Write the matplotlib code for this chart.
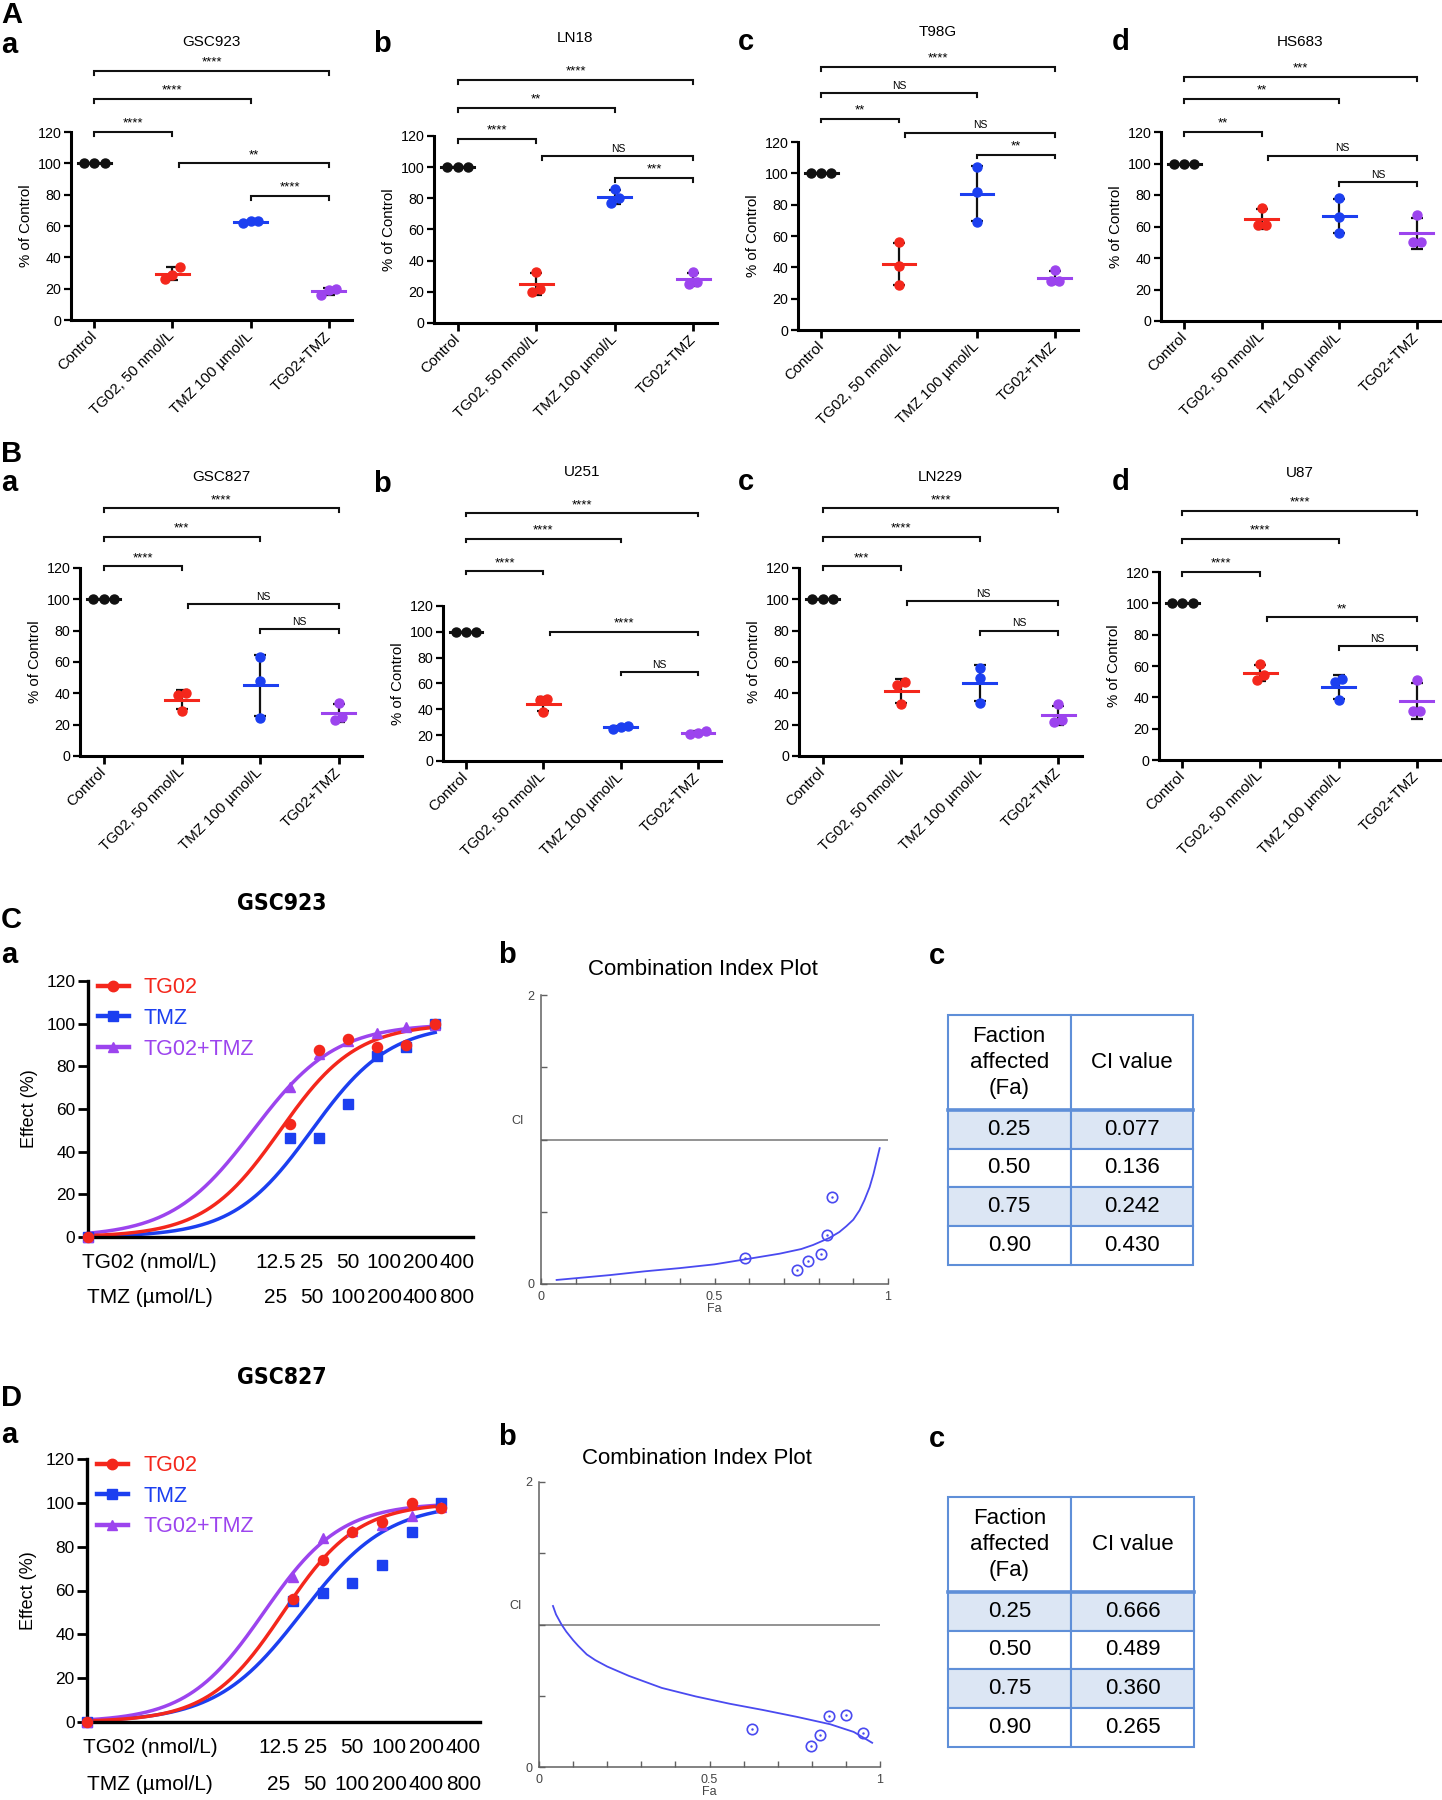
import numpy as np
import matplotlib.pyplot as plt
from matplotlib.lines import Line2D

plt.rcParams["font.family"] = ["Liberation Sans", "DejaVu Sans"]

W, H = 1442, 1800

GROUPS = ["Control", "TG02, 50 nmol/L", "TMZ 100 µmol/L", "TG02+TMZ"]

# % of control, three replicates per group
GSC923 = [[100, 100, 100], [34, 26, 29], [63, 62, 63], [20, 16, 19]]
LN18 = [[100, 100, 100], [33, 20, 22], [86, 77, 80], [33, 25, 26]]
T98G = [[100, 100, 100], [56, 41, 29], [104, 88, 69], [38.5, 31, 31]]
HS683 = [[100, 100, 100], [72, 61, 61], [78, 66, 56], [67, 50, 50]]
GSC827 = [[100, 100, 100], [40, 39, 29], [63, 48, 24.5], [34, 23, 25]]
U251 = [[100, 100, 100], [48, 47, 38], [27, 25, 26], [23, 21, 22]]
LN229 = [[100, 100, 100], [47, 45, 33], [56, 50, 34], [33, 22, 23]]
U87 = [[100, 100, 100], [61, 51, 54], [52, 50, 38], [51, 31, 31]]

# comparisons: (group a, group b, bracket level, label)
GSC923_SIG = [(0, 1, 120, "****"), (0, 2, 141, "****"), (0, 3, 159, "****"), (1, 3, 100, "**"), (2, 3, 79, "****")]
LN18_SIG = [(0, 1, 118, "****"), (0, 2, 138, "**"), (0, 3, 156, "****"), (1, 3, 107, "NS"), (2, 3, 93, "***")]
T98G_SIG = [(0, 1, 135, "**"), (0, 2, 151, "NS"), (0, 3, 168, "****"), (1, 3, 126, "NS"), (2, 3, 112, "**")]
HS683_SIG = [(0, 1, 120, "**"), (0, 2, 141, "**"), (0, 3, 155, "***"), (1, 3, 105, "NS"), (2, 3, 88, "NS")]
GSC827_SIG = [(0, 1, 121, "****"), (0, 2, 140, "***"), (0, 3, 158, "****"), (1, 3, 97, "NS"), (2, 3, 81, "NS")]
U251_SIG = [(0, 1, 147, "****"), (0, 2, 172, "****"), (0, 3, 192, "****"), (1, 3, 100, "****"), (2, 3, 69, "NS")]
LN229_SIG = [(0, 1, 121, "***"), (0, 2, 140, "****"), (0, 3, 158, "****"), (1, 3, 99, "NS"), (2, 3, 80, "NS")]
U87_SIG = [(0, 1, 120, "****"), (0, 2, 141, "****"), (0, 3, 159, "****"), (1, 3, 91, "**"), (2, 3, 72.5, "NS")]

# dose response
TG02_DOSES = [12.5, 25, 50, 100, 200, 400]  # nmol/L
TMZ_DOSES = [25, 50, 100, 200, 400, 800]  # µmol/L
# effect (%) at dose 0, then the six doses
GSC923_TG02 = [0, 52.9, 87.7, 93, 89.2, 90, 99.8]
GSC923_TMZ = [0, 46.6, 46.6, 62.2, 85, 89.2, 99.8]
GSC923_COMBO = [0, 70.5, 86, 92, 95.8, 98.4, 99.5]
GSC827_TG02 = [0, 56, 73.7, 86.5, 91.2, 99.9, 97.6]
GSC827_TMZ = [0, 55.4, 58.7, 63.6, 71.7, 86.6, 100]
GSC827_COMBO = [0, 66.3, 83.9, 87, 90, 93.8, 98]
# median-effect fits: (Dm, m), Dm in nmol/L TG02 or µmol/L TMZ
GSC923_FIT = {"TG02": (9.9, 1.1), "TMZ": (42.0, 1.07), "TG02+TMZ": (5.2, 1.02)}
GSC827_FIT = {"TG02": (9.9, 1.15), "TMZ": (30.8, 1.0), "TG02+TMZ": (6.3, 1.11)}

# combination index plots (curve, plus the data points)
GSC923_CI_FA = [0.045, 0.1, 0.2, 0.3, 0.4, 0.5, 0.587, 0.688, 0.75, 0.784, 0.832, 0.86,
                0.88, 0.9, 0.918, 0.932, 0.947, 0.958, 0.968, 0.976]
GSC923_CI_LINE = [0.028, 0.04, 0.062, 0.088, 0.11, 0.136, 0.17, 0.21, 0.242, 0.27, 0.32, 0.36,
                  0.40, 0.445, 0.51, 0.58, 0.67, 0.76, 0.86, 0.94]
GSC923_PT_FA = [0.587, 0.739, 0.770, 0.808, 0.825, 0.84]
GSC923_PT_CI = [0.178, 0.10, 0.16, 0.21, 0.34, 0.60]
GSC827_CI_FA = [0.041, 0.05, 0.066, 0.08, 0.1, 0.115, 0.14, 0.165, 0.2, 0.263, 0.36, 0.46,
                0.559, 0.657, 0.756, 0.854, 0.923, 0.977]
GSC827_CI_LINE = [1.13, 1.07, 1.0, 0.95, 0.89, 0.85, 0.79, 0.75, 0.705, 0.64, 0.555, 0.495,
                  0.444, 0.40, 0.352, 0.30, 0.246, 0.17]
GSC827_PT_FA = [0.626, 0.798, 0.825, 0.849, 0.90, 0.95]
GSC827_PT_CI = [0.269, 0.145, 0.227, 0.358, 0.363, 0.241]

TABLE_FA = [0.25, 0.50, 0.75, 0.90]
GSC923_CI_TABLE = [0.077, 0.136, 0.242, 0.430]
GSC827_CI_TABLE = [0.666, 0.489, 0.360, 0.265]

BLACK = "#111111"
RED = "#f4271c"
BLUE = "#1c3ff0"
PURPLE = "#9c44ee"
GROUP_COLORS = [BLACK, RED, BLUE, PURPLE]
CI_BLUE = "#4a4af0"
TABLE_EDGE = "#5f8fd8"
TABLE_FILL = "#dce6f4"

ZERO_X = -6.95  # where dose 0 sits on the log2 dose axis
X_END = 6.3
LABEL_SPREAD = 1.25
LABEL_SHIFT = 0.12

fig = plt.figure(figsize=(W / 100, H / 100), dpi=100)


def px_box(x0, y0, x1, y1):
    return [x0 / W, 1 - y1 / H, (x1 - x0) / W, (y1 - y0) / H]


def fig_text(x, y, s, **kw):
    fig.text(x / W, 1 - y / H, s, **kw)


def spread(v, thr=6.0, step=0.12):
    v = np.asarray(v, float)
    off = np.zeros(len(v))
    order = np.argsort(v, kind="stable")
    groups = [[order[0]]]
    for k in order[1:]:
        if v[k] - v[groups[-1][-1]] < thr:
            groups[-1].append(k)
        else:
            groups.append([k])
    for g in groups:
        for r, k in enumerate(g):
            off[k] = (r - (len(g) - 1) / 2) * step
    return off


def dot_panel(box, title, title_y, vals, sig):
    ax = fig.add_axes(px_box(*box))
    for i, (v, c) in enumerate(zip(vals, GROUP_COLORS)):
        v = np.asarray(v, float)
        m, sd = v.mean(), v.std(ddof=1)
        ax.errorbar(i, m, yerr=sd, fmt="none", ecolor=BLACK, elinewidth=1.6,
                    capsize=4.5, capthick=1.6, zorder=2)
        ax.plot(i + spread(v, step=0.13 if i == 0 else 0.1), v, "o", color=c, ms=6.5,
                zorder=3, clip_on=False)
        ax.plot([i - 0.21, i + 0.21], [m, m], color=c, lw=2.2, zorder=4)

    for a, b, h, lab in sig:
        xa = a + (0.08 if a == 1 else 0)
        ax.plot([xa, xa, b, b], [h - 2.5, h, h, h - 2.5], color=BLACK, lw=1.5,
                clip_on=False, solid_joinstyle="miter")
        ax.text((xa + b) / 2, h + 1.5, lab, ha="center", va="bottom",
                fontsize=7.5 if lab == "NS" else 9.5)

    ax.set_xlim(-0.3, 3.3)
    ax.set_ylim(0, 120)
    ax.set_yticks(range(0, 121, 20))
    ax.set_xticks(range(4))
    ax.set_xticklabels(GROUPS, rotation=45, ha="right", va="center",
                       rotation_mode="anchor", fontsize=10.8)
    ax.tick_params(axis="y", length=5, width=1.6, labelsize=10.3, pad=2)
    ax.tick_params(axis="x", length=6, width=2, pad=4)
    for s in ("top", "right"):
        ax.spines[s].set_visible(False)
    for s in ("left", "bottom"):
        ax.spines[s].set_linewidth(2.2)
    ax.set_ylabel("% of Control", fontsize=10.8, labelpad=3)
    cx = (box[0] + box[2]) / 2
    fig_text(cx, title_y, title, ha="center", va="center", fontsize=11)
    return ax


def dose_panel(box, tg02, tmz, combo, fits):
    ax = fig.add_axes(px_box(*box))
    x_d = np.log2(np.asarray(TG02_DOSES) / TG02_DOSES[0])
    x_pts = np.concatenate([[ZERO_X], x_d])
    x_fit = np.linspace(ZERO_X, x_d[-1], 400)
    ratio = TMZ_DOSES[0] / TG02_DOSES[0]
    specs = [("TMZ", tmz, BLUE, "s", ratio, 6.8),
             ("TG02+TMZ", combo, PURPLE, "^", 1.0, 6.8),
             ("TG02", tg02, RED, "o", 1.0, 7.3)]
    for name, eff, color, mk, scale, ms in specs:
        dm, slope = fits[name]
        e = np.log2(dm / scale / TG02_DOSES[0])
        ax.plot(x_fit, 100 / (1 + 2.0 ** (-slope * (x_fit - e))), color=color,
                lw=2.5, zorder=2, clip_on=False)
        ax.plot(x_pts, eff, mk, color=color, ms=ms, ls="none", zorder=3, clip_on=False)

    handles = [Line2D([], [], color=RED, marker="o", lw=3.2, ms=7.5),
               Line2D([], [], color=BLUE, marker="s", lw=3.2, ms=7),
               Line2D([], [], color=PURPLE, marker="^", lw=3.2, ms=7)]
    ax.legend(handles, ["TG02", "TMZ", "TG02+TMZ"], loc="upper left",
              bbox_to_anchor=(0.025, 1.015), frameon=False, fontsize=15.5,
              labelcolor="linecolor", handlelength=1.45, handletextpad=0.7,
              labelspacing=0.45, borderpad=0, borderaxespad=0)

    ax.set_xlim(ZERO_X, X_END)
    ax.set_ylim(0, 120)
    ax.set_xticks([])
    ax.set_yticks(range(0, 121, 20))
    ax.tick_params(axis="y", length=7, width=2, labelsize=12.5, pad=2)
    for s in ("top", "right"):
        ax.spines[s].set_visible(False)
    for s in ("left", "bottom"):
        ax.spines[s].set_linewidth(2.4)
    ax.set_ylabel("Effect (%)", fontsize=13, labelpad=6)

    trans = ax.get_xaxis_transform()
    c = x_d.mean() + LABEL_SHIFT
    x_lab = c + LABEL_SPREAD * (x_d - c + LABEL_SHIFT)
    for xl, d1, d2 in zip(x_lab, TG02_DOSES, TMZ_DOSES):
        ax.text(xl, -0.098, f"{d1:g}", transform=trans, ha="center", va="center", fontsize=15)
        ax.text(xl, -0.238, f"{d2:g}", transform=trans, ha="center", va="center", fontsize=15)
    ax.text(0.16, -0.098, "TG02 (nmol/L)", transform=ax.transAxes, ha="center",
            va="center", fontsize=15)
    ax.text(0.16, -0.238, "TMZ (µmol/L)", transform=ax.transAxes, ha="center",
            va="center", fontsize=15)
    return ax


def ci_panel(box, fa, ci, pt_fa, pt_ci, title_x, title_gap):
    ax = fig.add_axes(px_box(*box))
    ax.axhline(1, color="#8a8a8a", lw=1.3, zorder=1)
    ax.plot(fa, ci, color=CI_BLUE, lw=1.3, zorder=2)
    ax.plot(pt_fa, pt_ci, "o", mfc="none", mec=CI_BLUE, mew=1.2, ms=7.5, zorder=3)
    ax.plot(pt_fa, pt_ci, ".", color=CI_BLUE, ms=1.5, zorder=3)
    ax.set_xlim(0, 1)
    ax.set_ylim(0, 2)
    ax.set_xticks([0, 0.5, 1])
    ax.set_xticklabels(["0", "0.5", "1"])
    ax.set_xticks(np.arange(0.1, 1.0, 0.1), minor=True)
    ax.set_yticks([0, 0.5, 1, 1.5, 2])
    ax.set_yticklabels(["0", "", "", "", "2"])
    ax.tick_params(which="both", direction="in", length=4, width=1, color="#606060",
                   labelsize=9, labelcolor="#444444", pad=5)
    for s in ("top", "right"):
        ax.spines[s].set_visible(False)
    for s in ("left", "bottom"):
        ax.spines[s].set_color("#606060")
        ax.spines[s].set_linewidth(1.1)
    ax.set_xlabel("Fa", fontsize=9, color="#444444", labelpad=0)
    ax.text(-0.068, 1.13, "CI", ha="center", va="center", fontsize=9, color="#444444")
    hpx = box[3] - box[1]
    wpx = box[2] - box[0]
    ax.text((title_x - box[0]) / wpx, 1 + title_gap / hpx, "Combination Index Plot",
            transform=ax.transAxes, ha="center", va="center", fontsize=16)
    return ax


def ci_table(box, fa, ci):
    ax = fig.add_axes(px_box(*box))
    ax.axis("off")
    cells = [[f"{a:.2f}", f"{c:.3f}"] for a, c in zip(fa, ci)]
    tbl = ax.table(cellText=cells, colLabels=["Faction\naffected\n(Fa)", "CI value"],
                   cellLoc="center", bbox=[0, 0, 1, 1])
    tbl.auto_set_font_size(False)
    tbl.set_fontsize(16)
    head = 2.44
    for (r, c), cell in tbl.get_celld().items():
        cell.set_edgecolor(TABLE_EDGE)
        cell.set_linewidth(1.5)
        cell.set_height(head if r == 0 else 1.0)
        cell.set_facecolor(TABLE_FILL if r in (1, 3) else "white")
        cell.get_text().set_linespacing(1.32)
    yh = len(fa) / (len(fa) + head)
    ax.plot([0, 1], [yh, yh], color=TABLE_EDGE, lw=2.6, transform=ax.transAxes, clip_on=False)
    return ax


# ---- A / B: viability dot plots
dot_panel((71, 132, 352, 320), "GSC923", 42, GSC923, GSC923_SIG)
dot_panel((434, 136, 717, 323), "LN18", 38, LN18, LN18_SIG)
dot_panel((798, 142, 1078, 330), "T98G", 32, T98G, T98G_SIG)
dot_panel((1161, 132, 1440, 321), "HS683", 42, HS683, HS683_SIG)
dot_panel((80, 568, 362, 756), "GSC827", 477, GSC827, GSC827_SIG)
dot_panel((443, 606, 721, 761), "U251", 472, U251, U251_SIG)
dot_panel((799, 568, 1082, 756), "LN229", 477, LN229, LN229_SIG)
dot_panel((1159, 572, 1440, 760), "U87", 473, U87, U87_SIG)

# ---- C / D: combination with GSC923 and GSC827
dose_panel((88, 981, 473, 1237), GSC923_TG02, GSC923_TMZ, GSC923_COMBO, GSC923_FIT)
dose_panel((87, 1459, 480, 1722), GSC827_TG02, GSC827_TMZ, GSC827_COMBO, GSC827_FIT)
ci_panel((541, 995, 888, 1284), GSC923_CI_FA, GSC923_CI_LINE, GSC923_PT_FA, GSC923_PT_CI, 703, 26)
ci_panel((539, 1482, 880, 1767), GSC827_CI_FA, GSC827_CI_LINE, GSC827_PT_FA, GSC827_PT_CI, 697, 24)
ci_table((948, 1015, 1193, 1265), TABLE_FA, GSC923_CI_TABLE)
ci_table((948, 1497, 1194, 1747), TABLE_FA, GSC827_CI_TABLE)

fig_text(282, 903, "GSC923", ha="center", va="center", fontsize=16.5, weight="bold",
         family="DejaVu Sans", stretch="condensed")
fig_text(282, 1378, "GSC827", ha="center", va="center", fontsize=16.5, weight="bold",
         family="DejaVu Sans", stretch="condensed")

# panel letters: (x, baseline y of last line, text, line spacing)
letters = [(1, 53, "A\na", 1.08), (373, 52, "b", 1), (738, 50, "c", 1), (1112, 50, "d", 1),
           (1, 491, "B\na", 1.06), (373, 492, "b", 1), (738, 490, "c", 1), (1112, 490, "d", 1),
           (1, 963, "C\na", 1.3), (498, 963, "b", 1), (929, 964, "c", 1),
           (1, 1443, "D\na", 1.4), (498, 1445, "b", 1), (929, 1447, "c", 1)]
for x, y, s, ls in letters:
    fig_text(x, y, s, ha="left", va="baseline", fontsize=21, weight="bold",
             linespacing=ls, multialignment="left")

fig.savefig("out.png", dpi=100, facecolor="white")
